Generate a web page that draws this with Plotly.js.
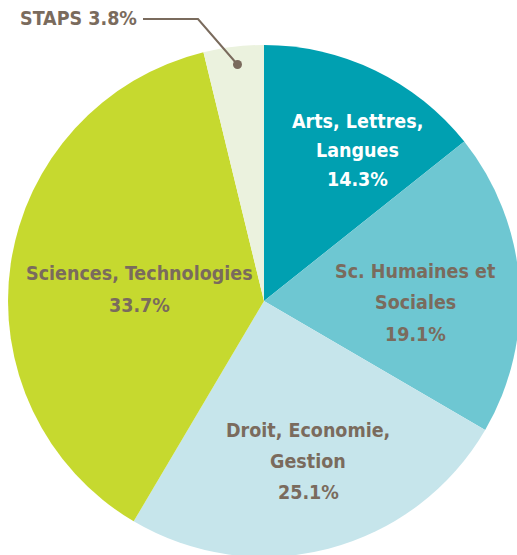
<!DOCTYPE html>
<html><head><meta charset="utf-8">
<script src="https://cdn.plot.ly/plotly-3.0.1.min.js"></script>
<style>html,body{margin:0;padding:0;overflow:hidden;background:#fff;width:517px;height:555px}#chart{width:530px;height:560px}</style>
</head><body><div id="chart"></div>
<script>
// Categories (clockwise from 12 o'clock)
const categories = ["Arts, Lettres,<br>Langues", "Sc. Humaines et<br>Sociales", "Droit, Economie,<br>Gestion", "Sciences, Technologies", "STAPS"];
// Percentages as printed on the chart
const labelPct = [14.3, 19.1, 25.1, 33.7, 3.8];
// Slice shares as drawn in the picture (the Sciences slice is drawn larger than its label)
const sliceShares = [14.3, 19.1, 25.1, 37.7, 3.8];
const colors = ["#00a0b1", "#6ec7d2", "#c6e5eb", "#c6d92f", "#ebf2de"];
const textColors = ["#ffffff", "#7a6b5d", "#7a6b5d", "#7a6b5d", "#7a6b5d"];

const W = 530, H = 560;
const px = x => x / W, py = y => 1 - y / H;
// label layout: centre x and first-line y (pixels), line step
const labelX = [357, 415, 308, 139, 78];
const labelY0 = [121, 271, 430, 273, 19];
const lineStep = [29.5, 31.5, 31, 33, 0];

const FONT = "Liberation Sans Narrow, DejaVu Sans Condensed, sans-serif";
const annotations = [];
categories.forEach((c, i) => {
  const lines = i === 4 ? [c + " " + labelPct[i] + "%"] : c.split("<br>").concat([labelPct[i] + "%"]);
  lines.forEach((t, k) => {
    annotations.push({
      x: px(labelX[i]), y: py(labelY0[i] + k * lineStep[i]), xref: "paper", yref: "paper",
      text: "<b>" + t + "</b>", showarrow: false, xanchor: "center", yanchor: "middle",
      font: {family: FONT, size: 19.5, color: textColors[i]}
    });
  });
});

const trace = {
  type: "pie", values: sliceShares, labels: categories, sort: false, direction: "clockwise",
  rotation: 0, marker: {colors: colors, line: {width: 0}}, textinfo: "none", hoverinfo: "none",
  domain: {x: [px(8), px(520)], y: [py(557), py(45)]}
};

const layout = {
  width: W, height: H, margin: {l: 0, r: 0, t: 0, b: 0}, showlegend: false,
  paper_bgcolor: "#ffffff", annotations: annotations,
  shapes: [
    {type: "path", xref: "paper", yref: "paper",
     path: `M ${px(143)} ${py(19)} L ${px(198)} ${py(19)} L ${px(237)} ${py(64)}`,
     line: {color: "#7a6b5d", width: 2}},
    {type: "circle", xref: "paper", yref: "paper",
     x0: px(233), x1: px(242), y0: py(69), y1: py(60), fillcolor: "#7a6b5d", line: {width: 0}}
  ]
};
Plotly.newPlot("chart", [trace], layout, {staticPlot: true, displayModeBar: false});
</script></body></html>
